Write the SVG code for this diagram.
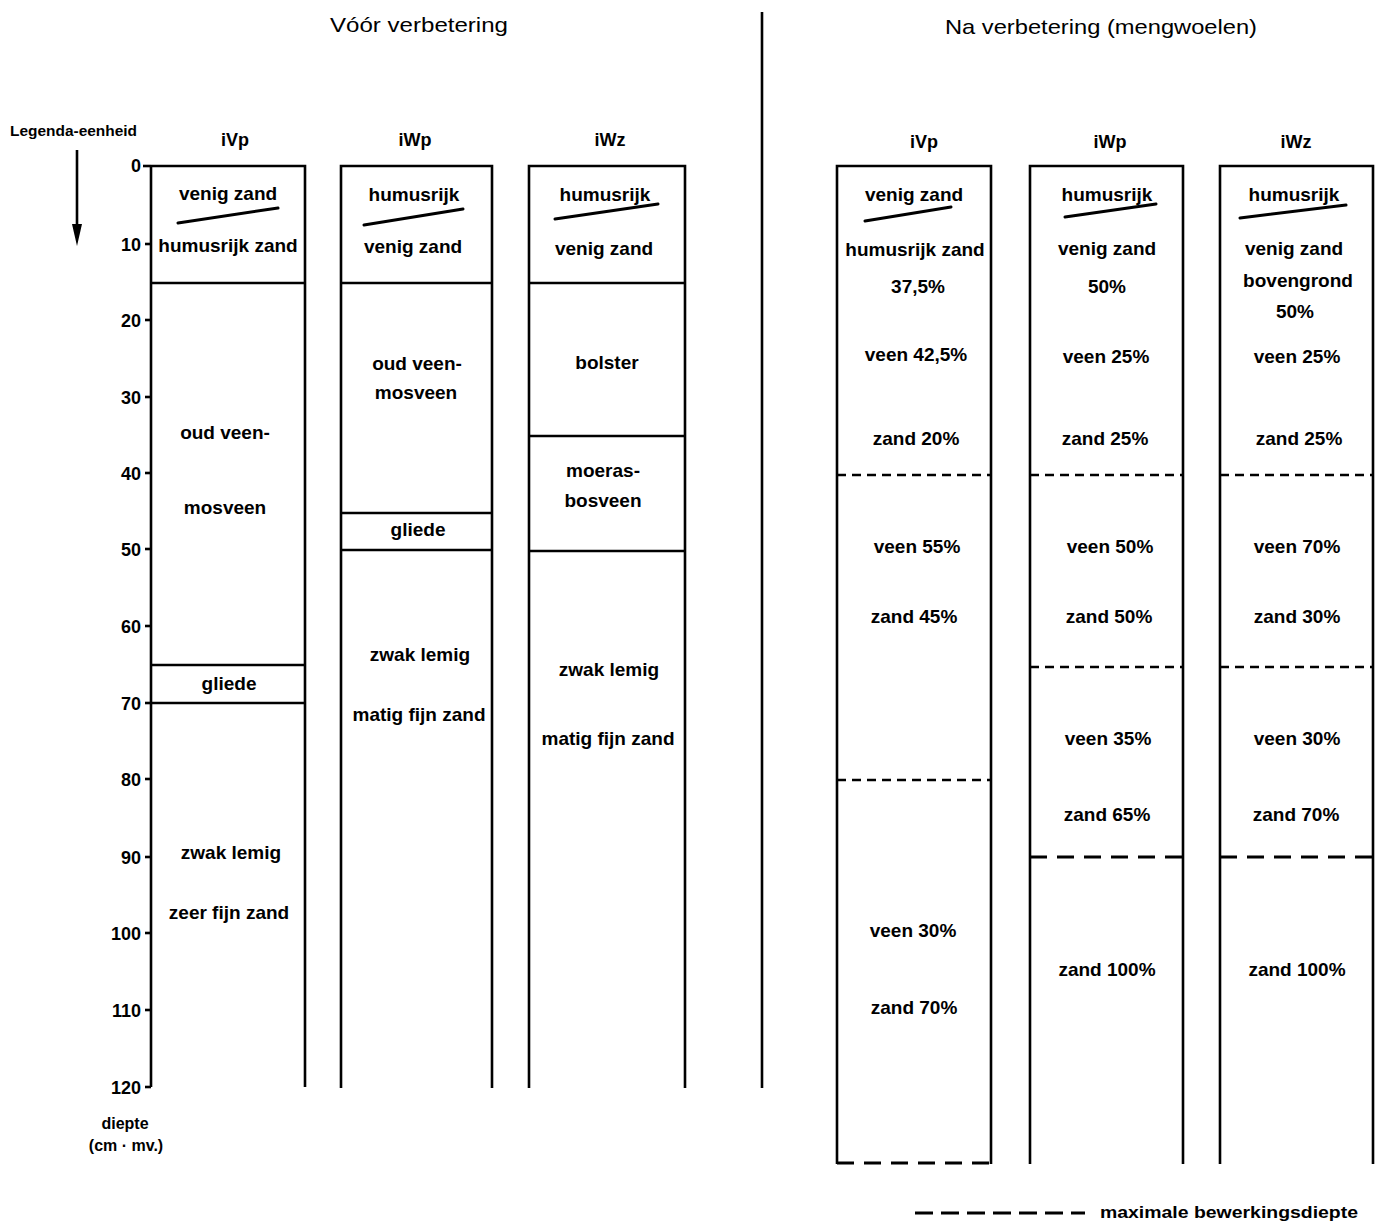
<svg xmlns="http://www.w3.org/2000/svg" width="1386" height="1225" viewBox="0 0 1386 1225">
<style>
text{font-family:"Liberation Sans",Arial,sans-serif;fill:#000}
.t{font-size:19px;font-weight:bold;text-anchor:middle}
.h{font-size:18px;font-weight:bold;text-anchor:middle}
.n{font-size:18px;font-weight:bold;text-anchor:end}
.ttl{font-size:21px;text-anchor:middle}
.s{stroke:#000;stroke-width:2.6;fill:none}
.d1{stroke:#000;stroke-width:2.6;fill:none;stroke-dasharray:9 6}
.d2{stroke:#000;stroke-width:2.8;fill:none;stroke-dasharray:17 10}
.sl{stroke:#000;stroke-width:3;fill:none;stroke-linecap:round}
</style>
<rect width="1386" height="1225" fill="#fff"/>
<g id="titles">
<text class="ttl" x="419" y="32" textLength="178" lengthAdjust="spacingAndGlyphs">Vóór verbetering</text>
<text class="ttl" x="1101" y="34" textLength="312" lengthAdjust="spacingAndGlyphs">Na verbetering (mengwoelen)</text>
<line class="s" x1="762" y1="12" x2="762" y2="1088"/>
</g>
<g id="axis">
<text x="10" y="136" style="font-size:15px;font-weight:bold" textLength="127" lengthAdjust="spacingAndGlyphs">Legenda-eenheid</text>
<line class="s" x1="151" y1="166" x2="151" y2="1087"/>
<line class="s" x1="143" y1="166" x2="151" y2="166"/>
<g class="s">
<line x1="145" y1="244" x2="151" y2="244"/><line x1="145" y1="320" x2="151" y2="320"/><line x1="145" y1="397" x2="151" y2="397"/><line x1="145" y1="473" x2="151" y2="473"/><line x1="145" y1="549" x2="151" y2="549"/><line x1="145" y1="626" x2="151" y2="626"/><line x1="145" y1="703" x2="151" y2="703"/><line x1="145" y1="779" x2="151" y2="779"/><line x1="145" y1="857" x2="151" y2="857"/><line x1="145" y1="933" x2="151" y2="933"/><line x1="145" y1="1010" x2="151" y2="1010"/><line x1="145" y1="1087" x2="151" y2="1087"/>
</g>
<text class="n" x="141" y="172">0</text>
<text class="n" x="141" y="251">10</text>
<text class="n" x="141" y="327">20</text>
<text class="n" x="141" y="404">30</text>
<text class="n" x="141" y="480">40</text>
<text class="n" x="141" y="556">50</text>
<text class="n" x="141" y="633">60</text>
<text class="n" x="141" y="710">70</text>
<text class="n" x="141" y="786">80</text>
<text class="n" x="141" y="864">90</text>
<text class="n" x="141" y="940">100</text>
<text class="n" x="141" y="1017">110</text>
<text class="n" x="141" y="1094">120</text>
<text class="h" x="125" y="1129" style="font-size:16px">diepte</text>
<text class="h" x="126" y="1151" style="font-size:16px">(cm · mv.)</text>
</g>
<g id="connectors">
<line class="s" x1="77" y1="150" x2="77" y2="228"/>
<polygon points="72,224 82,224 77,246" fill="#000"/>
</g>
<g id="left-iVp">
<text class="h" x="235" y="146">iVp</text>
<path class="s" d="M151,166 H305 V1087"/>
<line class="s" x1="151" y1="283" x2="305" y2="283"/>
<line class="s" x1="151" y1="665" x2="306" y2="665"/>
<line class="s" x1="151" y1="703" x2="305" y2="703"/>
<text class="t" x="228" y="200">venig zand</text>
<line class="sl" x1="178" y1="223" x2="278" y2="208"/>
<text class="t" x="228" y="252">humusrijk zand</text>
<text class="t" x="225" y="439">oud veen-</text>
<text class="t" x="225" y="514">mosveen</text>
<text class="t" x="229" y="690">gliede</text>
<text class="t" x="231" y="859">zwak lemig</text>
<text class="t" x="229" y="919">zeer fijn zand</text>
</g>
<g id="left-iWp">
<text class="h" x="415" y="146">iWp</text>
<path class="s" d="M341,1088 V166 H492 V1088"/>
<line class="s" x1="341" y1="283" x2="492" y2="283"/>
<line class="s" x1="341" y1="513" x2="492" y2="513"/>
<line class="s" x1="341" y1="550" x2="492" y2="550"/>
<text class="t" x="414" y="201">humusrijk</text>
<line class="sl" x1="364" y1="225" x2="463" y2="209"/>
<text class="t" x="413" y="253">venig zand</text>
<text class="t" x="417" y="370">oud veen-</text>
<text class="t" x="416" y="399">mosveen</text>
<text class="t" x="418" y="536">gliede</text>
<text class="t" x="420" y="661">zwak lemig</text>
<text class="t" x="419" y="721">matig fijn zand</text>
</g>
<g id="left-iWz">
<text class="h" x="610" y="146">iWz</text>
<path class="s" d="M529,1088 V166 H685 V1088"/>
<line class="s" x1="529" y1="283" x2="685" y2="283"/>
<line class="s" x1="529" y1="436" x2="685" y2="436"/>
<line class="s" x1="529" y1="551" x2="685" y2="551"/>
<text class="t" x="605" y="201">humusrijk</text>
<line class="sl" x1="555" y1="219" x2="658" y2="204"/>
<text class="t" x="604" y="255">venig zand</text>
<text class="t" x="607" y="369">bolster</text>
<text class="t" x="603" y="477">moeras-</text>
<text class="t" x="603" y="507">bosveen</text>
<text class="t" x="609" y="676">zwak lemig</text>
<text class="t" x="608" y="745">matig fijn zand</text>
</g>
<g id="right-iVp">
<text class="h" x="924" y="148">iVp</text>
<path class="s" d="M837,1164 V166 H991 V1164"/>
<line class="d1" x1="837" y1="475" x2="991" y2="475"/>
<line class="d1" x1="837" y1="780" x2="991" y2="780"/>
<line class="d2" x1="837" y1="1163" x2="991" y2="1163"/>
<text class="t" x="914" y="201">venig zand</text>
<line class="sl" x1="865" y1="221" x2="951" y2="207"/>
<text class="t" x="915" y="256">humusrijk zand</text>
<text class="t" x="918" y="293">37,5%</text>
<text class="t" x="916" y="361">veen 42,5%</text>
<text class="t" x="916" y="445">zand 20%</text>
<text class="t" x="917" y="553">veen 55%</text>
<text class="t" x="914" y="623">zand 45%</text>
<text class="t" x="913" y="937">veen 30%</text>
<text class="t" x="914" y="1014">zand 70%</text>
</g>
<g id="right-iWp">
<text class="h" x="1110" y="148">iWp</text>
<path class="s" d="M1030,1164 V166 H1183 V1164"/>
<line class="d1" x1="1030" y1="475" x2="1183" y2="475"/>
<line class="d1" x1="1030" y1="667" x2="1183" y2="667"/>
<line class="d2" x1="1030" y1="857" x2="1183" y2="857"/>
<text class="t" x="1107" y="201">humusrijk</text>
<line class="sl" x1="1065" y1="217" x2="1156" y2="204"/>
<text class="t" x="1107" y="255">venig zand</text>
<text class="t" x="1107" y="293">50%</text>
<text class="t" x="1106" y="363">veen 25%</text>
<text class="t" x="1105" y="445">zand 25%</text>
<text class="t" x="1110" y="553">veen 50%</text>
<text class="t" x="1109" y="623">zand 50%</text>
<text class="t" x="1108" y="745">veen 35%</text>
<text class="t" x="1107" y="821">zand 65%</text>
<text class="t" x="1107" y="976">zand 100%</text>
</g>
<g id="right-iWz">
<text class="h" x="1296" y="148">iWz</text>
<path class="s" d="M1220,1164 V166 H1373 V1164"/>
<line class="d1" x1="1220" y1="475" x2="1373" y2="475"/>
<line class="d1" x1="1220" y1="667" x2="1373" y2="667"/>
<line class="d2" x1="1220" y1="857" x2="1373" y2="857"/>
<text class="t" x="1294" y="201">humusrijk</text>
<line class="sl" x1="1240" y1="218" x2="1346" y2="205"/>
<text class="t" x="1294" y="255">venig zand</text>
<text class="t" x="1298" y="287">bovengrond</text>
<text class="t" x="1295" y="318">50%</text>
<text class="t" x="1297" y="363">veen 25%</text>
<text class="t" x="1299" y="445">zand 25%</text>
<text class="t" x="1297" y="553">veen 70%</text>
<text class="t" x="1297" y="623">zand 30%</text>
<text class="t" x="1297" y="745">veen 30%</text>
<text class="t" x="1296" y="821">zand 70%</text>
<text class="t" x="1297" y="976">zand 100%</text>
</g>
<g id="legend">
<line class="d2" x1="915" y1="1213" x2="1085" y2="1213" style="stroke-dasharray:18 8"/>
<text x="1100" y="1218" style="font-size:16px;font-weight:bold" textLength="258" lengthAdjust="spacingAndGlyphs">maximale bewerkingsdiepte</text>
</g>
</svg>
